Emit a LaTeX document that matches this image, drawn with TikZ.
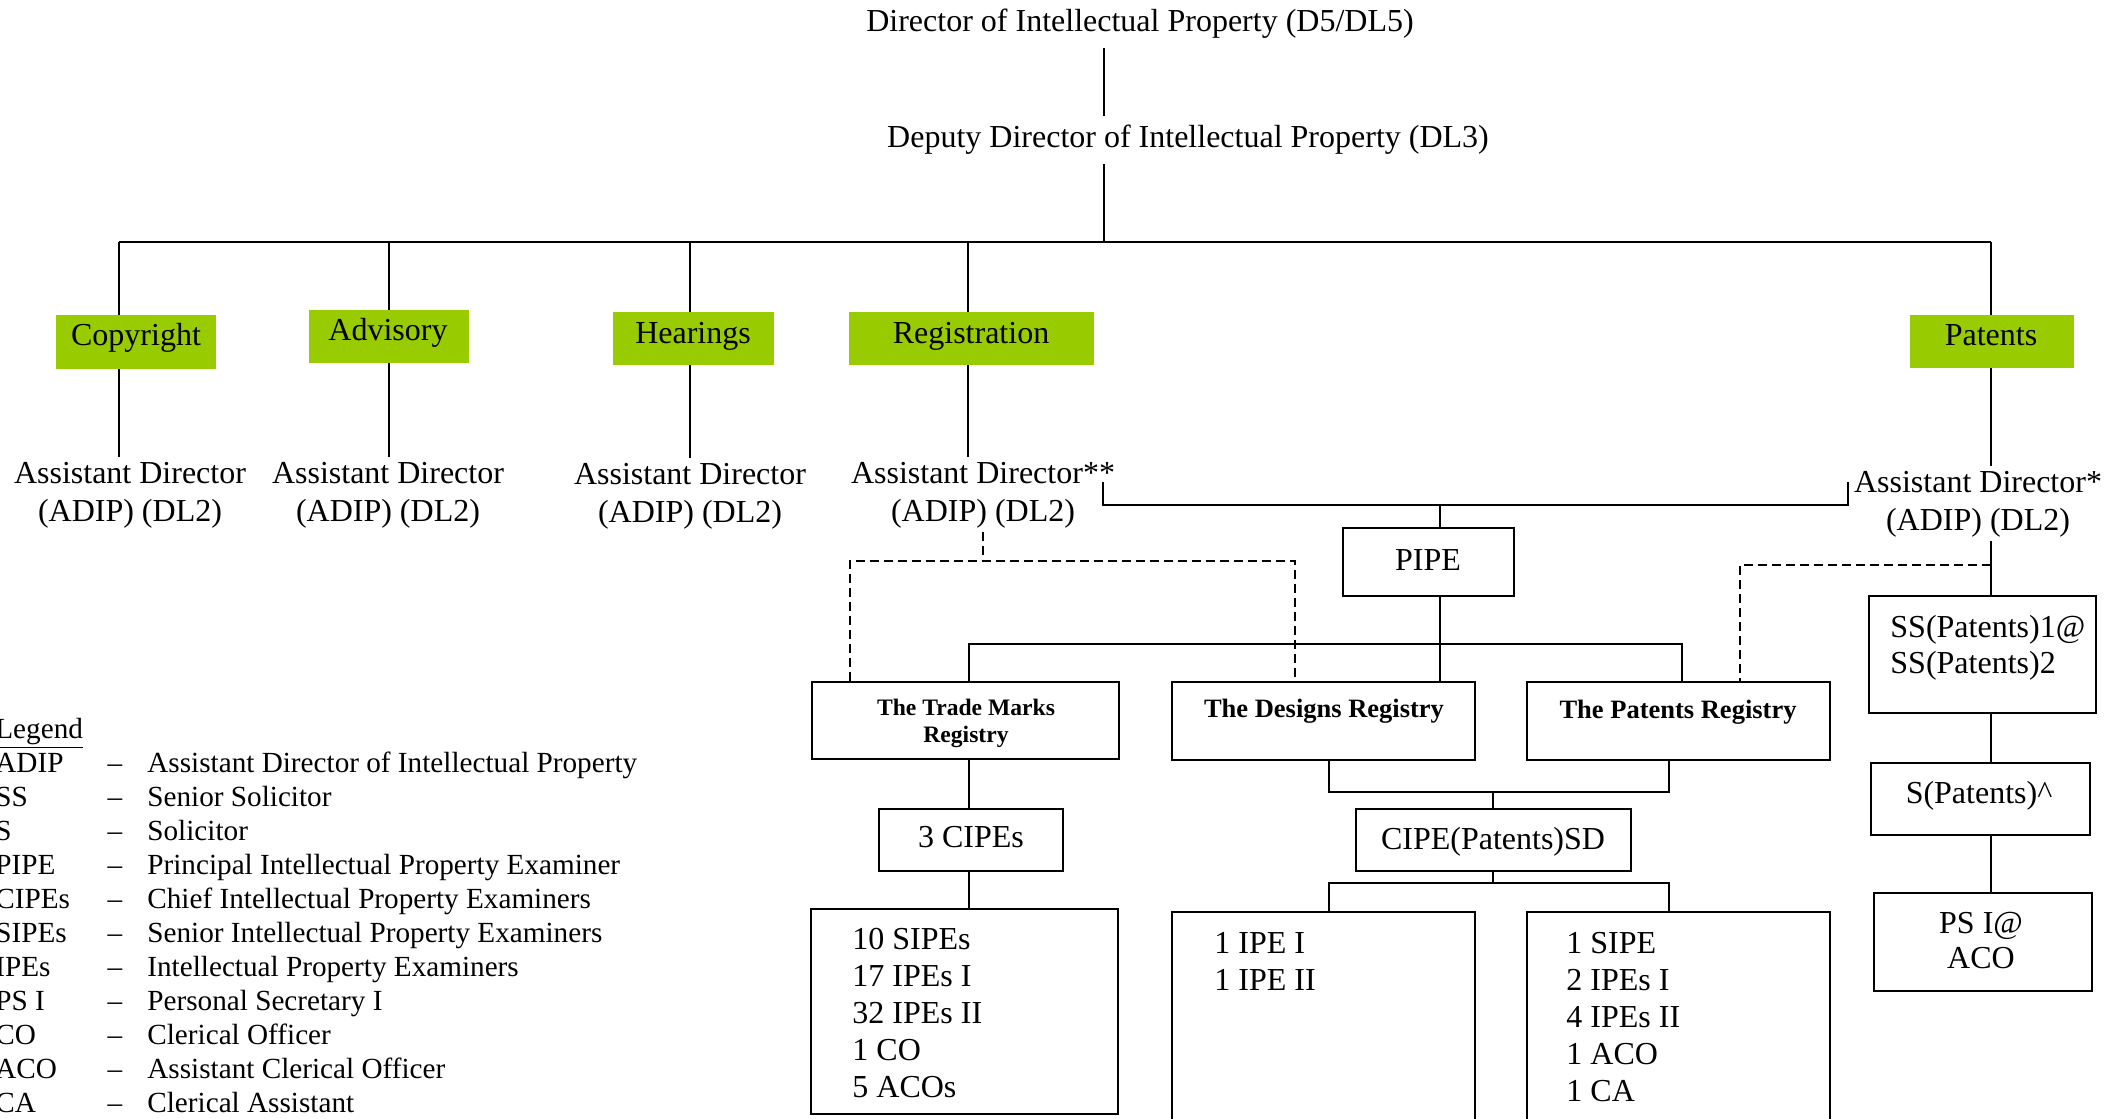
\documentclass[tikz,border=0pt]{standalone}
\usepackage{fontspec}
\setmainfont{Liberation Serif}
\usetikzlibrary{fit}
\definecolor{grn}{HTML}{99CC00}
\begin{document}
\begin{tikzpicture}[x=0.5pt,y=-0.5pt,
  conn/.style={line width=1pt},
  tconn/.style={line width=1.4pt},
  dconn/.style={line width=1pt, dash pattern=on 4.5pt off 2.5pt},
  box/.style={draw, line width=1.2pt, inner sep=0pt},
  gbox/.style={fill=grn, draw=none, inner sep=0pt},
  lbl/.style={font=\fontsize{16}{19}\selectfont, inner sep=0pt, anchor=base},
  ttl/.style={font=\fontsize{16}{19}\selectfont, inner sep=4.5pt, anchor=base},
  adtxt/.style={font=\fontsize{16}{19}\selectfont, inner sep=2pt, anchor=base, align=center},
  regtxt/.style={font=\bfseries\fontsize{13.25}{15}\selectfont, inner sep=0pt, anchor=base},
  staff/.style={font=\fontsize{16}{18.5}\selectfont, inner sep=0pt, anchor=base west, align=left},
  leg/.style={font=\fontsize{14.6}{17}\selectfont, inner sep=0pt, anchor=base west},
]
\useasboundingbox (0,0) rectangle (2118,1118);
\clip (0,0) rectangle (2118,1118);

% ---------- top titles ----------
\node[ttl] (dir) at (1140,32) {Director of Intellectual Property (D5/DL5)};
\node[ttl] (dep) at (1188,148) {Deputy Director of Intellectual Property (DL3)};
\coordinate (bar) at (1104,242);
\coordinate (barL) at (119,242);
\coordinate (jA) at (389,242);
\coordinate (jH) at (690,242);
\coordinate (jR) at (968,242);
\coordinate (barR) at (1991,242);
\draw[conn] (dir.south -| bar) -- (dep.north -| bar);
\draw[conn] (dep.south -| bar) -- (bar);
\draw[conn] (barL) -- (barR);

% ---------- green section boxes ----------
\node[gbox, fit={(56,315) (216,369)}] (cop) {};
\node[gbox, fit={(309,310) (469,363)}] (adv) {};
\node[gbox, fit={(613,312) (774,365)}] (hea) {};
\node[gbox, fit={(849,312) (1094,365)}] (reg) {};
\node[gbox, fit={(1910,315) (2074,368)}] (pat) {};
\node[lbl] (copT) at (136,345) {Copyright};
\node[lbl] (advT) at (388,340) {Advisory};
\node[lbl] (heaT) at (693,343) {Hearings};
\node[lbl] (regT) at (971,343) {Registration};
\node[lbl] (patT) at (1991,345) {Patents};

\draw[conn] (barL) -- (barL |- cop.north);
\draw[conn] (jA) -- (jA |- adv.north);
\draw[conn] (jH) -- (jH |- hea.north);
\draw[conn] (jR) -- (jR |- reg.north);
\draw[conn] (barR) -- (barR |- pat.north);

% ---------- assistant directors (base = last line) ----------
\node[adtxt] (adC) at (130,521) {Assistant Director\\(ADIP) (DL2)};
\node[adtxt] (adA) at (388,521) {Assistant Director\\(ADIP) (DL2)};
\node[adtxt] (adH) at (690,522) {Assistant Director\\(ADIP) (DL2)};
\node[adtxt] (adR) at (983,521) {Assistant Director**\\(ADIP) (DL2)};
\node[adtxt] (adP) at (1978,530) {Assistant Director*\\(ADIP) (DL2)};

\draw[conn] (cop.south -| barL) -- (adC.north -| barL);
\draw[conn] (adv.south -| jA) -- (adA.north -| jA);
\draw[conn] (hea.south -| jH) -- (adH.north -| jH);
\draw[conn] (reg.south -| jR) -- (adR.north -| jR);
\draw[conn] (pat.south -| barR) -- (adP.north -| barR);

% ---------- PIPE ----------
\node[box, fit={(1343,528) (1514,596)}] (pipe) {};
\node[lbl] (pipeT) at (1428,570) {PIPE};
\coordinate (rl) at (1103,482);
\coordinate (rr) at (1848,482);
\coordinate (pbar) at (1440,505);
\draw[conn] (rl) |- (pbar) -| (rr);
\draw[conn] (pbar) -- (pbar |- pipe.north);

% ---------- registries ----------
\node[box, fit={(812,682) (1119,759)}] (tm) {};
\node[box, fit={(1172,682) (1475,760)}] (des) {};
\node[box, fit={(1527,682) (1830,760)}] (pr) {};
\node[font=\bfseries\fontsize{11.8}{13.5}\selectfont, inner sep=0pt, anchor=base, align=center] (tmT) at (966,742) {The Trade Marks\\Registry};
\node[regtxt] (desT) at (1324,717) {The Designs Registry};
\node[regtxt] (prT) at (1678,718) {The Patents Registry};

\coordinate (rbL) at (969,644);
\coordinate (rbR) at (1682,644);
\draw[tconn] (pipe.south -| pbar) -- (des.north -| pbar);
\draw[conn] (tm.north -| rbL) -- (rbL) -- (rbR) -- (pr.north -| rbR);

% dashed links
\coordinate (dR) at (983,561);
\coordinate (dRL) at (850,561);
\coordinate (dRR) at (1295,561);
\draw[dconn] (adR.south -| dR) -- (dR);
\draw[dconn] (tm.north -| dRL) -- (dRL) -- (dRR) -- (des.north -| dRR);
\coordinate (dP) at (1991,565);
\coordinate (dPL) at (1740,565);
\draw[dconn] (dP) -- (dPL) -- (pr.north -| dPL);

% ---------- trade marks branch ----------
\node[box, fit={(879,809) (1063,871)}] (cipes) {};
\node[lbl] (cipesT) at (971,847) {3 CIPEs};
\node[box, fit={(811,909) (1118,1114)}] (tmstaff) {};
\node[staff] (tmstaffT) at (852,1097) {10 SIPEs\\17 IPEs I\\32 IPEs II\\1 CO\\5 ACOs};
\draw[conn] (tm.south -| rbL) -- (cipes.north -| rbL);
\draw[conn] (cipes.south -| rbL) -- (tmstaff.north -| rbL);

% ---------- designs / patents branch ----------
\node[box, fit={(1356,809) (1631,871)}] (cipesd) {};
\node[lbl] (cipesdT) at (1493,849) {CIPE(Patents)SD};
\coordinate (b2L) at (1329,792);
\coordinate (b2R) at (1669,792);
\coordinate (b2M) at (1493,792);
\draw[tconn] (des.south -| b2L) -- (b2L) -- (b2R) -- (pr.south -| b2R);
\draw[conn] (b2M) -- (cipesd.north -| b2M);

\node[box, fit={(1172,912) (1475,1160)}] (ipe) {};
\node[box, fit={(1527,912) (1830,1160)}] (sipe) {};
\node[staff] (ipeT) at (1214,990) {1 IPE I\\1 IPE II};
\node[staff] (sipeT) at (1566,1101) {1 SIPE\\2 IPEs I\\4 IPEs II\\1 ACO\\1 CA};
\coordinate (b3L) at (1329,883);
\coordinate (b3R) at (1669,883);
\coordinate (b3M) at (1493,883);
\draw[conn] (cipesd.south -| b3M) -- (b3M);
\draw[tconn] (ipe.north -| b3L) -- (b3L) -- (b3R) -- (sipe.north -| b3R);

% ---------- patents column ----------
\node[box, fit={(1869,596) (2096,713)}] (ss) {};
\node[font=\fontsize{16}{18}\selectfont, inner sep=0pt, anchor=base west, align=left] (ssT) at (1890,673) {SS(Patents)1@\\SS(Patents)2};
\node[box, fit={(1871,763) (2090,835)}] (sp) {};
\node[lbl] (spT) at (1979,803) {S(Patents)\textasciicircum};
\node[box, fit={(1874,893) (2092,991)}] (ps) {};
\node[font=\fontsize{16}{17.5}\selectfont, inner sep=0pt, anchor=base, align=center] (psT) at (1981,968) {PS I@\\ACO};
\draw[conn] (adP.south -| barR) -- (ss.north -| barR);
\draw[conn] (ss.south -| barR) -- (sp.north -| barR);
\draw[conn] (sp.south -| barR) -- (ps.north -| barR);

% ---------- legend ----------
\node[leg] (lg) at (-5,738) {\underline{Legend}};
\foreach \ab/\df [count=\i] in {ADIP/Assistant Director of Intellectual Property,
  SS/Senior Solicitor, S/Solicitor, PIPE/Principal Intellectual Property Examiner,
  CIPEs/Chief Intellectual Property Examiners, SIPEs/Senior Intellectual Property Examiners,
  IPEs/Intellectual Property Examiners, PS I/Personal Secretary I, CO/Clerical Officer,
  ACO/Assistant Clerical Officer, CA/Clerical Assistant}{
  \node[leg] (ab\i) at (-5,738+34*\i) {\ab};
  \node[leg, anchor=base] (ds\i) at (115,738+34*\i) {\textendash};
  \node[leg] (df\i) at (147,738+34*\i) {\df};
}
\end{tikzpicture}
\end{document}
